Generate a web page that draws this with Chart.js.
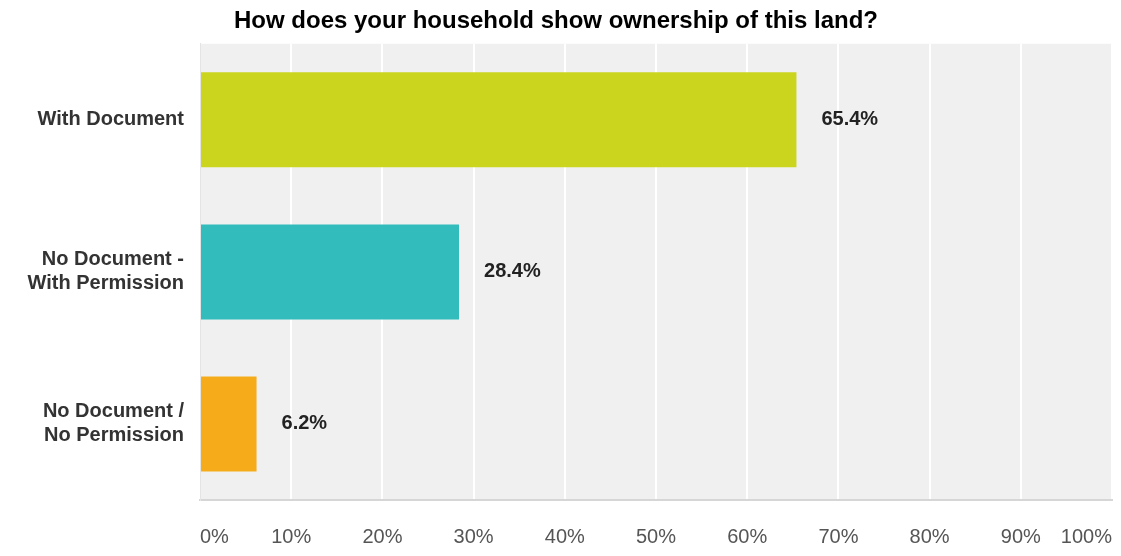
<!DOCTYPE html>
<html>
<head>
<meta charset="utf-8">
<script src="https://cdn.jsdelivr.net/npm/chart.js@4"></script>
<style>
  html, body { margin: 0; padding: 0; background: #fff; }
  #wrap { width: 1121px; height: 556px; }
</style>
</head>
<body>
<div id="wrap"><canvas id="chart"></canvas></div>
<script>
// survey answers
const categories = [['With Document'], ['No Document -', 'With Permission'], ['No Document /', 'No Permission']];
const shares = [65.4, 28.4, 6.2];
const barColors = ['#ccd51e', '#32bcbc', '#f5ab1a'];
const xTicks = [0, 10, 20, 30, 40, 50, 60, 70, 80, 90, 100];
const chartTitle = 'How does your household show ownership of this land?';

const FONT = '"Liberation Sans", Arial, sans-serif';

// grey plot background
const plotBg = {
    id: 'plotBg',
    beforeDraw(chart) {
        const { ctx, chartArea: a } = chart;
        ctx.save();
        ctx.fillStyle = '#f0f0f0';
        ctx.fillRect(a.left, a.top, a.right - a.left, a.bottom - a.top);
        ctx.restore();
    }
};

// percentage labels to the right of each bar
const valueLabels = {
    id: 'valueLabels',
    afterDatasetsDraw(chart) {
        const { ctx } = chart;
        const meta = chart.getDatasetMeta(0);
        ctx.save();
        ctx.font = 'bold 20px ' + FONT;
        ctx.fillStyle = '#222';
        ctx.textBaseline = 'middle';
        meta.data.forEach((bar, i) => {
            ctx.fillText(shares[i].toFixed(1) + '%', bar.x + 25, bar.y);
        });
        ctx.restore();
    }
};

new Chart(document.getElementById('chart'), {
    type: 'bar',
    data: {
        labels: categories,
        datasets: [{
            data: shares,
            backgroundColor: barColors,
            borderWidth: 0,
            barPercentage: 0.625,
            categoryPercentage: 1
        }]
    },
    options: {
        indexAxis: 'y',
        responsive: true,
        maintainAspectRatio: false,
        animation: false,
        layout: { padding: { left: 0, right: 9, top: 0, bottom: 0 } },
        plugins: {
            legend: { display: false },
            tooltip: { enabled: false },
            title: {
                display: true,
                text: chartTitle,
                color: '#000',
                font: { family: FONT, size: 24, weight: 'bold' },
                padding: { top: 7, bottom: 8 }
            }
        },
        scales: {
            x: {
                min: 0,
                max: 100,
                afterBuildTicks: s => { s.ticks = xTicks.map(v => ({ value: v })); },
                afterFit: s => { s.height = 56; s.paddingLeft = 0; s.paddingRight = 0; },
                ticks: {
                    align: 'inner',
                    padding: 25,
                    color: '#555',
                    font: { family: FONT, size: 20 },
                    callback: v => v + '%'
                },
                grid: { color: '#ffffff', lineWidth: 2, drawTicks: false },
                border: { display: true, color: '#d6d6d6', width: 2 }
            },
            y: {
                afterFit: s => { s.width = 200; },
                ticks: {
                    padding: 16,
                    color: '#333',
                    font: { family: FONT, size: 20, weight: 'bold', lineHeight: 1.2 }
                },
                grid: { display: false, drawTicks: false },
                border: { display: true, color: '#e4e4e4', width: 1 }
            }
        }
    },
    plugins: [plotBg, valueLabels]
});
</script>
</body>
</html>
